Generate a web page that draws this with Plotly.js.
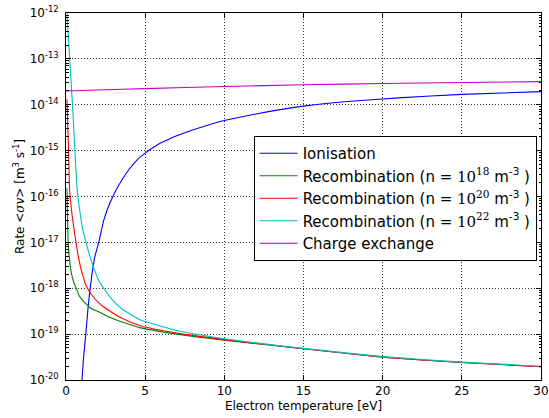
<!DOCTYPE html>
<html>
<head>
<meta charset="utf-8">
<script src="https://cdn.plot.ly/plotly-3.0.1.min.js"></script>
<style>html,body{margin:0;padding:0;background:#fff;}#chart{width:549px;height:418px;}</style>
</head>
<body>
<div id="chart"></div>
<script>
// Ionisation
const T_ion = [0.95, 1.01, 1.1, 1.25, 1.4, 1.6, 1.8, 2.1, 2.4, 2.8, 3.3, 4, 4.5, 5, 5.5, 6, 6.5, 7, 8, 9, 10, 12, 15, 18, 21, 25, 30];
const rate_ion = [4.27e-21, 1.0e-20, 2.82e-20, 1.0e-19, 3.98e-19, 1.58e-18, 4.47e-18, 1.12e-17, 3.16e-17, 7.59e-17, 1.70e-16, 3.98e-16, 6.31e-16, 8.81e-16, 1.17e-15, 1.48e-15, 1.78e-15, 2.11e-15, 2.82e-15, 3.63e-15, 4.52e-15, 6.31e-15, 9.33e-15, 1.19e-14, 1.41e-14, 1.68e-14, 1.93e-14];
// Recombination n = 1e18
const T_rec18 = [0.06, 0.1, 0.13, 0.2, 0.34, 0.5, 0.65, 0.86, 1.2, 1.6, 2.1, 2.8, 3.5, 4.8, 7, 10, 15, 20, 25, 30];
const rate_rec18 = [1.51e-16, 3.16e-17, 1.12e-17, 5.01e-18, 2.14e-18, 1.32e-18, 1.0e-18, 6.61e-19, 4.79e-19, 3.63e-19, 3.02e-19, 2.29e-19, 1.86e-19, 1.35e-19, 1.0e-19, 7.41e-20, 4.79e-20, 3.16e-20, 2.40e-20, 1.95e-20];
// Recombination n = 1e20
const T_rec20 = [0.06, 0.16, 0.23, 0.35, 0.5, 0.8, 1.0, 1.28, 1.7, 2.11, 2.44, 3.5, 4.8, 7, 10, 15, 20, 25, 30];
const rate_rec20 = [1.32e-14, 1.02e-15, 1.38e-16, 5.01e-17, 2.0e-17, 4.47e-18, 2.24e-18, 1.12e-18, 6.61e-19, 4.68e-19, 3.80e-19, 2.24e-19, 1.48e-19, 1.05e-19, 7.59e-20, 4.79e-20, 3.16e-20, 2.40e-20, 1.95e-20];
// Recombination n = 1e22
const T_rec22 = [0.06, 0.41, 0.56, 0.71, 0.86, 1.05, 1.28, 1.58, 2.11, 2.38, 2.9, 3.5, 4.64, 7, 10, 15, 20, 25, 30];
const rate_rec22 = [9.55e-13, 1.0e-14, 1.02e-15, 1.38e-16, 5.13e-17, 2.0e-17, 9.55e-18, 4.17e-18, 1.38e-18, 1.0e-18, 5.75e-19, 3.63e-19, 2.09e-19, 1.20e-19, 7.94e-20, 4.90e-20, 3.24e-20, 2.45e-20, 2.0e-20];
// Charge exchange
const T_cx = [0, 2, 5, 10, 15, 20, 25, 30];
const rate_cx = [2.0e-14, 2.1e-14, 2.25e-14, 2.5e-14, 2.72e-14, 2.9e-14, 3.05e-14, 3.2e-14];

// Y tick labels
const yTickVals = [1e-20, 1e-19, 1e-18, 1e-17, 1e-16, 1e-15, 1e-14, 1e-13, 1e-12];
const yTickText = ['10<sup>-20</sup>', '10<sup>-19</sup>', '10<sup>-18</sup>', '10<sup>-17</sup>', '10<sup>-16</sup>', '10<sup>-15</sup>', '10<sup>-14</sup>', '10<sup>-13</sup>', '10<sup>-12</sup>'];

const names = [
  'Ionisation',
  'Recombination (n = <span style="font-family:DejaVu Serif">10<sup>18</sup></span> m<sup>-3</sup> )',
  'Recombination (n = <span style="font-family:DejaVu Serif">10<sup>20</sup></span> m<sup>-3</sup> )',
  'Recombination (n = <span style="font-family:DejaVu Serif">10<sup>22</sup></span> m<sup>-3</sup> )',
  'Charge exchange'
];
const colors = ['#0000ff', '#008000', '#ff0000', '#00bfbf', '#bf00bf'];
const smooth = [0.6, 0.5, 0.5, 0.5, 0.6];
const xs = [T_ion, T_rec18, T_rec20, T_rec22, T_cx];
const ys = [rate_ion, rate_rec18, rate_rec20, rate_rec22, rate_cx];

const traces = xs.map((x, i) => ({
  x: x, y: ys[i], type: 'scatter', mode: 'lines', name: names[i],
  legendgroup: 'g' + i,
  line: {color: colors[i], width: 1.1, shape: 'spline', smoothing: smooth[i]},
  cliponaxis: true
}));

const axisCommon = {
  showline: true, linecolor: '#000', linewidth: 1, mirror: 'allticks',
  ticks: 'inside', ticklen: 5, tickcolor: '#000', tickwidth: 1,
  showgrid: true, gridcolor: 'rgba(0,0,0,0.8)', griddash: '1px,2px', gridwidth: 1,
  zeroline: false,
  tickfont: {family: 'DejaVu Sans', size: 12, color: '#000'}
};

const layout = {
  width: 549, height: 418,
  margin: {l: 66, r: 8, t: 13, b: 38},
  paper_bgcolor: '#fff', plot_bgcolor: '#fff',
  font: {family: 'DejaVu Sans', color: '#000'},
  showlegend: true,
  legend: {
    x: 0.395, y: 0.665, xanchor: 'left', yanchor: 'top',
    bgcolor: '#fff', bordercolor: '#000', borderwidth: 1,
    font: {family: 'DejaVu Sans', size: 15, color: '#000'},
    tracegroupgap: 0,
    itemwidth: 38
  },
  xaxis: Object.assign({}, axisCommon, {
    range: [0, 30], dtick: 5, tick0: 0,
    title: {text: 'Electron temperature [eV]', font: {family: 'DejaVu Sans', size: 12}, standoff: 4}
  }),
  yaxis: Object.assign({}, axisCommon, {
    type: 'log', range: [-20, -12],
    tickmode: 'array', tickvals: yTickVals, ticktext: yTickText,
    ticklabelstandoff: 4,
    minor: {ticks: 'inside', ticklen: 2.5, tickcolor: '#000', showgrid: false, dtick: 'D1'},
    title: {text: 'Rate <span style="font-family:DejaVu Serif"><i>&lt;σv&gt;</i></span> [m<sup>3</sup> s<sup>-1</sup>]', font: {family: 'DejaVu Sans', size: 12}, standoff: 2}
  })
};

Plotly.newPlot('chart', traces, layout, {staticPlot: true, displayModeBar: false});
</script>
</body>
</html>
